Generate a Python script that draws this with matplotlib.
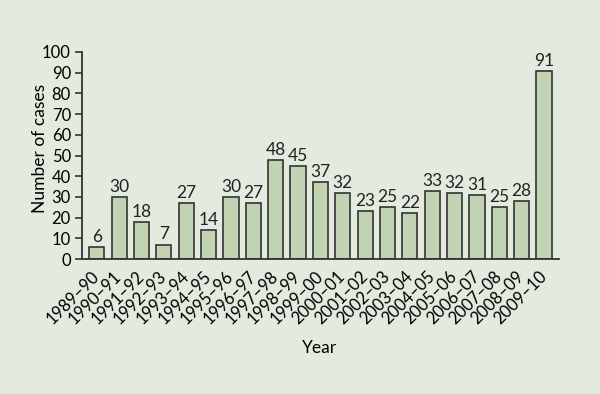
import matplotlib
matplotlib.use("Agg")
import matplotlib.pyplot as plt

years = ["1989–90","1990–91","1991–92","1992–93","1993–94","1994–95","1995–96",
         "1996–97","1997–98","1998–99","1999–00","2000–01","2001–02","2002–03",
         "2003–04","2004–05","2005–06","2006–07","2007–08","2008–09","2009–10"]
cases = [6,30,18,7,27,14,30,27,48,45,37,32,23,25,22,33,32,31,25,28,91]

bg = "#e3ebdf"
plt.rcParams['font.family'] = ['Lato', 'DejaVu Sans']
fig = plt.figure(figsize=(6, 3.94), dpi=100, facecolor=bg)
ax = fig.add_axes([82/600, 1-259/394, (559-82)/600, (259-52)/394])
ax.set_facecolor(bg)
x = range(len(years))
bars = ax.bar(x, cases, width=0.68, color="#c2d3b4", edgecolor="#333333", linewidth=1.2)
for xi, v in zip(x, cases):
    ax.text(xi, v + 1.0, str(v), ha="center", va="bottom", fontsize=12.5, color="#222222")
ax.set_xlim(-0.66, len(years) - 0.33)
ax.set_ylim(0, 100)
ax.set_yticks(range(0, 101, 10))
ax.set_xticks(list(x))
ax.set_xticklabels(years, rotation=45, ha="right", va="center", rotation_mode="anchor", fontsize=12)
ax.tick_params(axis="x", length=0, pad=11)
ax.tick_params(axis="y", length=5, width=1.2, color="#333333", labelsize=12, pad=3)
for s in ["top", "right"]:
    ax.spines[s].set_visible(False)
for s in ["left", "bottom"]:
    ax.spines[s].set_linewidth(1.3)
    ax.spines[s].set_color("#333333")
ax.set_ylabel("Number of cases", fontsize=12.5)
ax.yaxis.set_label_coords((48-82)/477, (259-148)/207)
fig.text(320/600, 1-348/394, "Year", ha="center", va="center", fontsize=12.5)
fig.savefig("out.png", dpi=100, facecolor=bg)
